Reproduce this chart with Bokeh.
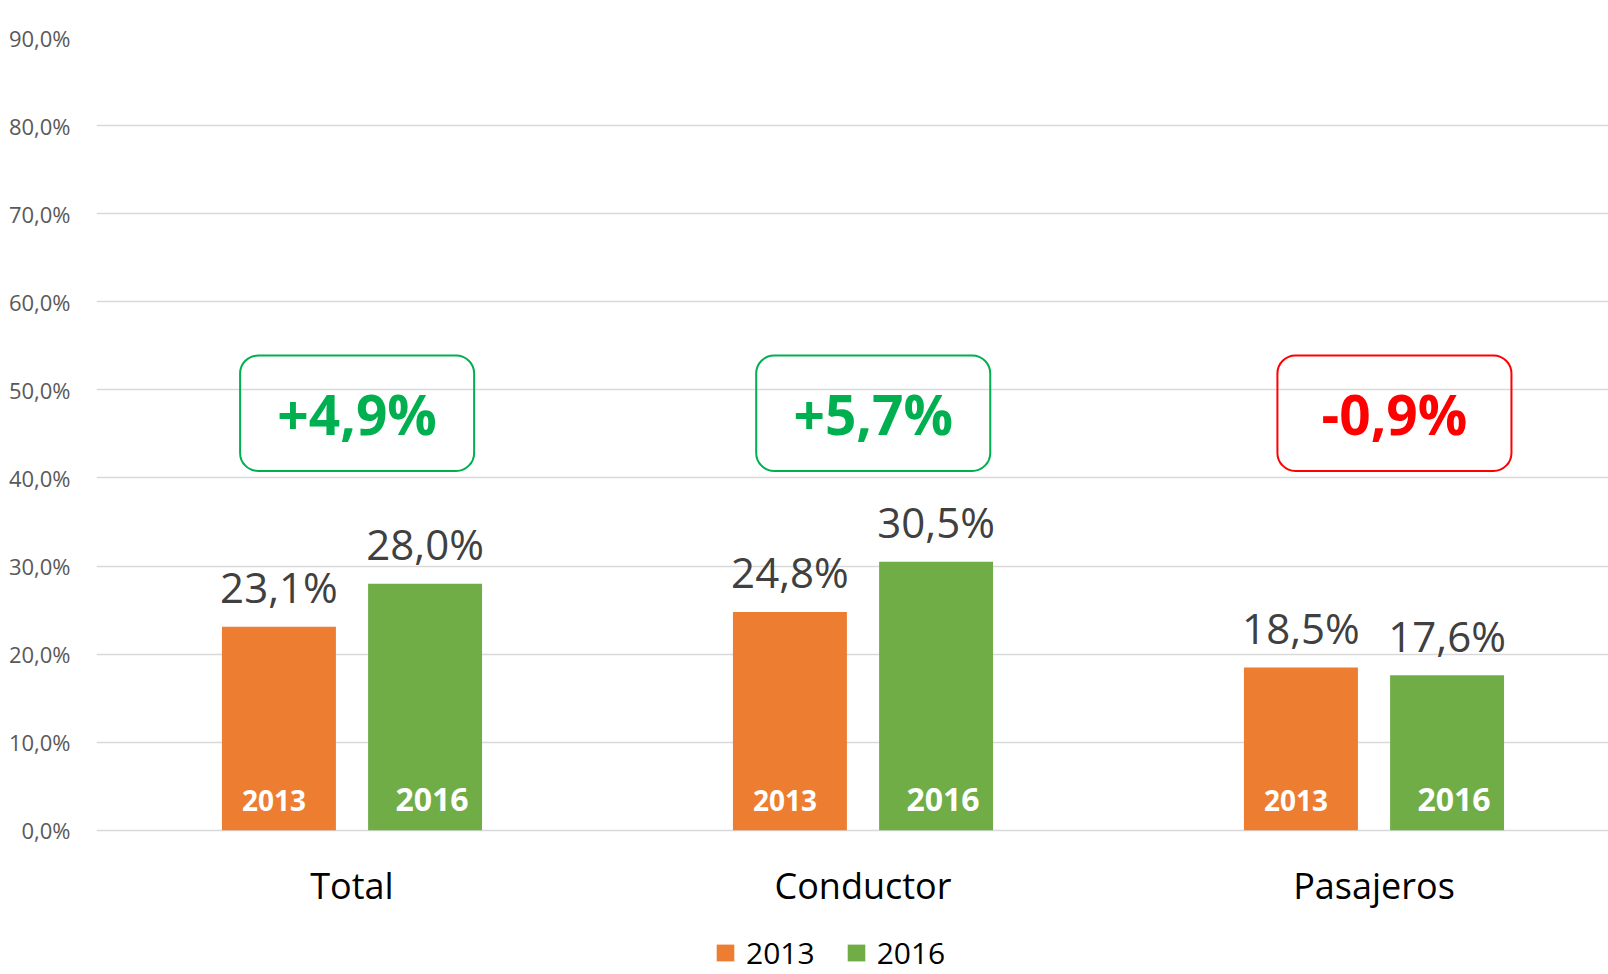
from bokeh.plotting import figure
from bokeh.models import (Range1d, FixedTicker, CustomJSTickFormatter, ColumnDataSource,
                          BoxAnnotation, Legend, LegendItem)
from bokeh.core.properties import value
from bokeh.embed import file_html
from bokeh.resources import INLINE

# ---- data ----
categories = ["Total", "Conductor", "Pasajeros"]
years = ["2013", "2016"]
values_2013 = [23.1, 24.8, 18.5]
values_2016 = [28.0, 30.5, 17.6]
changes = ["+4,9%", "+5,7%", "-0,9%"]
y_ticks = [0, 10, 20, 30, 40, 50, 60, 70, 80, 90]

# ---- style ----
ORANGE = "#ED7D31"
GREEN = "#70AD47"
UP = "#00B050"
DOWN = "#FF0000"
FONT = "Open Sans"
BAR_W = 0.223
OFF = 0.143

def fmt(v):
    return ("%.1f" % v).replace(".", ",") + "%"

idx = list(range(len(categories)))
src13 = ColumnDataSource(dict(x=[i - OFF for i in idx], top=values_2013,
                              lab=[fmt(v) for v in values_2013], yr=[years[0]] * 3))
src16 = ColumnDataSource(dict(x=[i + OFF for i in idx], top=values_2016,
                              lab=[fmt(v) for v in values_2016], yr=[years[1]] * 3))

p = figure(width=1608, height=974, output_backend="svg", toolbar_location=None,
           x_range=Range1d(-0.5, -0.5 + 1512 / 511), y_range=Range1d(-16.36, 90),
           min_border_left=96, min_border_right=0, min_border_top=37, min_border_bottom=0)
p.outline_line_color = None
p.background_fill_color = "white"
p.border_fill_color = "white"

p.xaxis.visible = False
p.xgrid.visible = False
p.yaxis.ticker = FixedTicker(ticks=y_ticks)
p.yaxis.formatter = CustomJSTickFormatter(code="return tick.toFixed(1).replace('.', ',') + '%';")
p.yaxis.axis_line_color = None
p.yaxis.major_tick_line_color = None
p.yaxis.minor_tick_line_color = None
p.yaxis.major_label_standoff = 20
p.yaxis.major_label_text_font = FONT
p.yaxis.major_label_text_font_size = "22px"
p.yaxis.major_label_text_color = "#595959"
p.ygrid.grid_line_color = "#D9D9D9"
p.ygrid.grid_line_width = 1.5

r13 = p.vbar(x="x", top="top", bottom=0, width=BAR_W, source=src13, fill_color=ORANGE, line_color=None)
r16 = p.vbar(x="x", top="top", bottom=0, width=BAR_W, source=src16, fill_color=GREEN, line_color=None)

# value labels
for src in (src13, src16):
    p.text(x="x", y="top", text="lab", source=src, text_align="center", text_baseline="alphabetic",
           y_offset=-40, text_font=value(FONT), text_font_size="42px", text_color="#404040")

# year labels inside bars
p.text(x="x", y=0, text="yr", source=src13, text_align="center", text_baseline="alphabetic",
       x_offset=-5, y_offset=-30, text_font=value(FONT), text_font_style="bold",
       text_font_size="28px", text_color="white")
p.text(x="x", y=0, text="yr", source=src16, text_align="center", text_baseline="alphabetic",
       x_offset=7, y_offset=-31, text_font=value(FONT), text_font_style="bold",
       text_font_size="32px", text_color="white")

# category labels
p.text(x=idx, y=[0] * 3, text=categories, text_align="center", text_baseline="alphabetic",
       y_offset=55, text_font=value(FONT), text_font_size="36px", text_color="black")

# change boxes
box_dx = [0.01, 0.02, 0.04]
BOX_HALF = 0.229
BOX_TOP, BOX_BOT = 53.9, 40.8
for i, ch in enumerate(changes):
    col = DOWN if ch.startswith("-") else UP
    cx = idx[i] + box_dx[i]
    p.add_layout(BoxAnnotation(left=cx - BOX_HALF, right=cx + BOX_HALF, top=BOX_TOP, bottom=BOX_BOT,
                               fill_color=None, fill_alpha=0, line_color=col, line_alpha=1,
                               line_width=2, border_radius=18))
    p.text(x=[cx], y=[BOX_BOT], text=[ch], text_align="center", text_baseline="alphabetic",
           y_offset=-57, text_font=value(FONT), text_font_style="bold", text_font_size="55px",
           text_color=col)

legend = Legend(items=[LegendItem(label=years[0], renderers=[r13]),
                       LegendItem(label=years[1], renderers=[r16])],
                orientation="horizontal", location=(618, 1),
                glyph_width=22, glyph_height=21, label_standoff=10, spacing=30,
                padding=0, margin=0, border_line_color=None, background_fill_alpha=0,
                label_text_font=FONT, label_text_font_size="30px", label_text_color="black")
p.add_layout(legend, "center")

open("out.html", "w").write(file_html(p, INLINE))
